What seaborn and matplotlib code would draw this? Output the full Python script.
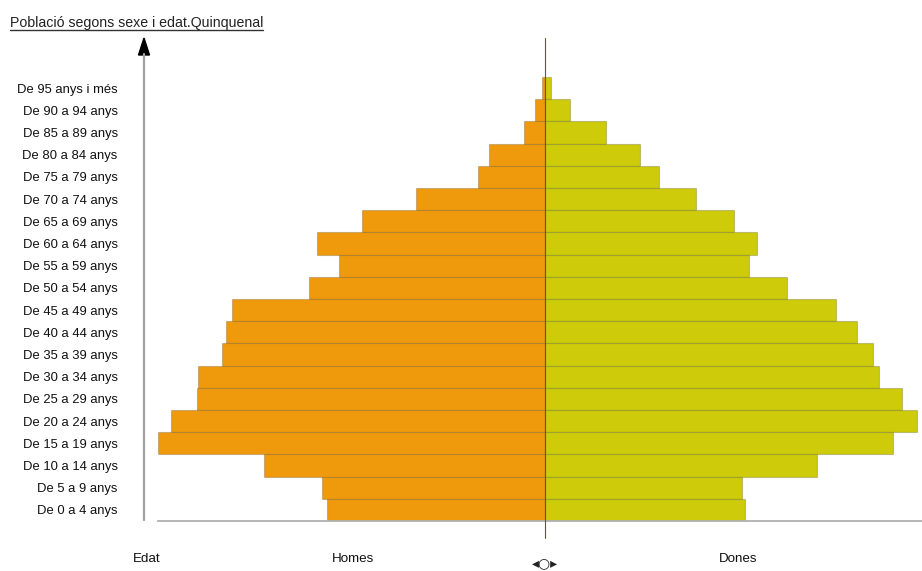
import matplotlib
matplotlib.use("Agg")
import matplotlib.pyplot as plt
import seaborn as sns
import pandas as pd
from matplotlib.lines import Line2D
from matplotlib.patches import Polygon

# Grups d'edat (de baix a dalt)
grups = ["De 0 a 4 anys", "De 5 a 9 anys", "De 10 a 14 anys", "De 15 a 19 anys",
         "De 20 a 24 anys", "De 25 a 29 anys", "De 30 a 34 anys", "De 35 a 39 anys",
         "De 40 a 44 anys", "De 45 a 49 anys", "De 50 a 54 anys", "De 55 a 59 anys",
         "De 60 a 64 anys", "De 65 a 69 anys", "De 70 a 74 anys", "De 75 a 79 anys",
         "De 80 a 84 anys", "De 85 a 89 anys", "De 90 a 94 anys", "De 95 anys i més"]
homes = [218, 223, 281, 387, 374, 348, 347, 323, 319, 313,
         236, 206, 228, 183, 129, 67, 56, 21, 10, 3]
dones = [200, 197, 272, 348, 372, 357, 334, 328, 312, 291,
         242, 204, 212, 189, 151, 114, 95, 61, 25, 6]

color_homes = "#EF9A0C"
color_dones = "#CDCB0A"

W, H = 922, 571


def fx(px):
    return px / W


def fy(py):
    return 1 - py / H


sns.set_theme(style="white")
plt.rcParams["font.family"] = ["Liberation Sans Narrow", "Liberation Sans", "DejaVu Sans"]

df = pd.DataFrame({"grup": grups, "homes": [-h for h in homes], "dones": dones})
ordre = grups[::-1]  # el primer queda a dalt

fig = plt.figure(figsize=(W / 100, H / 100), dpi=100)
ax = fig.add_axes([fx(158), fy(521), fx(922) - fx(158), fy(38) - fy(521)])

vora = (0, 0, 0, 0.18)
sns.barplot(data=df, x="homes", y="grup", order=ordre, color=color_homes,
            width=1.0, saturation=1, edgecolor=vora, linewidth=0.8, ax=ax)
sns.barplot(data=df, x="dones", y="grup", order=ordre, color=color_dones,
            width=1.0, saturation=1, edgecolor=vora, linewidth=0.8, ax=ax)

n = len(grups)
ax.set_xlim(-387, 377)
ax.set_ylim(n - 0.5, -2.26)
ax.set_xlabel("")
ax.set_ylabel("")
ax.set_xticks([])
ax.tick_params(axis="y", length=0, pad=29, labelsize=9.4, labelcolor="#111111")

for s in ["top", "right", "left"]:
    ax.spines[s].set_visible(False)
ax.spines["bottom"].set_color("#b0b0b0")
ax.spines["bottom"].set_linewidth(1.3)

# línia central
ax.plot([0, 0], [n - 0.5 + 0.77, -2.26], color="#5a5a3a", lw=0.8,
        clip_on=False, zorder=5)

# eix vertical amb fletxa
fig.add_artist(Line2D([fx(144), fx(144)], [fy(520), fy(54)],
                      transform=fig.transFigure, color="#a0a0a0", lw=1.6))
fig.add_artist(Polygon([[fx(144), fy(38)], [fx(138.5), fy(55)], [fx(149.5), fy(55)]],
                       closed=True, transform=fig.transFigure, color="black"))

# títol subratllat
t = fig.text(fx(10), fy(27), "Població segons sexe i edat.Quinquenal",
             fontsize=10.2, color="#222222", ha="left", va="baseline")
fig.canvas.draw()
bb = t.get_window_extent()
fig.add_artist(Line2D([bb.x0 / W, bb.x1 / W], [fy(30), fy(30)],
                      transform=fig.transFigure, color="#333333", lw=1.0))

# etiquetes inferiors
fig.text(fx(147), fy(559), "Edat", fontsize=9.6, ha="center", va="center", color="#111111")
fig.text(fx(353), fy(559), "Homes", fontsize=9.6, ha="center", va="center", color="#111111")
fig.text(fx(738), fy(559), "Dones", fontsize=9.6, ha="center", va="center", color="#111111")
fig.text(fx(545), fy(563), "◂○▸", fontsize=10, ha="center", va="center", color="#222222",
         family=["DejaVu Sans"])

fig.savefig("out.png", dpi=100)
